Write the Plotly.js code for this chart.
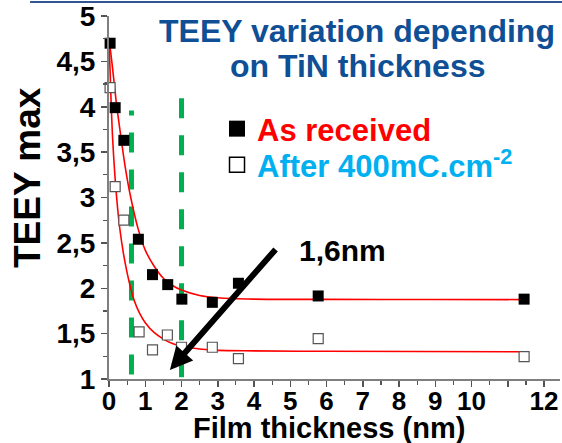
<!DOCTYPE html>
<html>
<head>
<meta charset="utf-8">
<script src="https://cdn.plot.ly/plotly-3.0.1.min.js"></script>
<style>
html,body{margin:0;padding:0;background:#fff;}
#chart{width:562px;height:443px;}
#chart .xtick text{font-size:26px !important;font-weight:bold !important;font-family:"Liberation Sans",Arial,sans-serif !important;}
#chart .ytick text{font-size:28px !important;font-weight:bold !important;font-family:"Liberation Sans",Arial,sans-serif !important;}
</style>
</head>
<body>
<div id="chart"></div>
<script>
// Measured data (film thickness in nm, TEEY max)
const xReceived = [0.03, 0.17, 0.41, 0.81, 1.2, 1.62, 2.01, 2.85, 3.57, 5.77, 11.45];
const yReceived = [4.70, 3.99, 3.63, 2.54, 2.15, 2.04, 1.88, 1.845, 2.055, 1.915, 1.88];
const xAfter = [0.03, 0.17, 0.41, 0.83, 1.2, 1.61, 2.0, 2.85, 3.57, 5.77, 11.45];
const yAfter = [4.21, 3.12, 2.75, 1.52, 1.32, 1.485, 1.35, 1.35, 1.224, 1.444, 1.246];

// Fit curves
const fitXReceived = [0.0, 0.1, 0.2, 0.3, 0.45, 0.6, 0.8, 1.0, 1.25, 1.5, 1.75, 2.0, 2.5, 3.0, 4.0, 6.0, 9.0, 11.45];
const fitYReceived = [4.76, 4.42, 4.05, 3.75, 3.33, 3.00, 2.66, 2.42, 2.24, 2.11, 2.03, 1.98, 1.92, 1.895, 1.88, 1.877, 1.876, 1.875];
const fitXAfter = [0.0, 0.05, 0.1, 0.2, 0.3, 0.4, 0.5, 0.6, 0.7, 0.85, 1.0, 1.25, 1.5, 1.75, 2.0, 2.5, 3.0, 4.0, 6.0, 11.45];
const fitYAfter = [4.76, 4.15, 3.65, 3.05, 2.65, 2.38, 2.17, 2.00, 1.86, 1.72, 1.62, 1.51, 1.44, 1.39, 1.36, 1.33, 1.315, 1.31, 1.305, 1.30];

// Vertical dashed marker lines
const markerLineX = [0.62, 2.0];
const markerLineBottom = [1.05, 1.02];
const markerLineTop = [3.96, 4.10];

// Tick labels
const xTickVals = [0,1,2,3,4,5,6,7,8,9,10,11,12];
const xTickText = ['0','1','2','3','4','5','6','7','8','9','10','','12'];
const yTickVals = [1,1.5,2,2.5,3,3.5,4,4.5,5];
const yTickText = ['1','1,5','2','2,5','3','3,5','4','4,5','5'];

const FONT = 'Liberation Sans, Arial, sans-serif';

const traces = [];
markerLineX.forEach((x, i) => {
  traces.push({x: [x, x], y: [markerLineBottom[i], markerLineTop[i]], mode: 'lines', showlegend: false,
    line: {color: '#00b050', width: 5, dash: '20px,17px'}});
});
traces.push({x: fitXReceived, y: fitYReceived, mode: 'lines', showlegend: false,
  line: {color: '#ff0000', width: 1.6, shape: 'spline', smoothing: 0.8}});
traces.push({x: fitXAfter, y: fitYAfter, mode: 'lines', showlegend: false,
  line: {color: '#ff0000', width: 1.6, shape: 'spline', smoothing: 0.8}});
traces.push({x: xAfter, y: yAfter, mode: 'markers', showlegend: false,
  marker: {symbol: 'square', size: 10, color: '#ffffff', line: {color: '#555555', width: 1.2}}, cliponaxis: false});
traces.push({x: xReceived, y: yReceived, mode: 'markers', showlegend: false,
  marker: {symbol: 'square', size: 11, color: '#000000'}, cliponaxis: false});
// legend entries
traces.push({x: [null], y: [null], mode: 'markers', legend: 'legend',
  name: '<span style="color:#ff0000">As received</span>',
  marker: {symbol: 'square', size: 16, color: '#000000'}});
traces.push({x: [null], y: [null], mode: 'markers', legend: 'legend2',
  name: '<span style="color:#00b0f0">After 400mC.cm<sup>-2</sup></span>',
  marker: {symbol: 'square', size: 15, color: '#ffffff', line: {color: '#000000', width: 1.5}}});

const legendBase = {xref: 'paper', yref: 'paper', x: 0.2395, xanchor: 'left', yanchor: 'middle',
  bgcolor: 'rgba(0,0,0,0)', borderwidth: 0, font: {family: FONT, size: 31, weight: 'bold'}, itemsizing: 'trace'};

const layout = {
  width: 562, height: 443, margin: {l: 109, r: 2, t: 16, b: 64},
  paper_bgcolor: '#ffffff', plot_bgcolor: '#ffffff', showlegend: true,
  legend: Object.assign({}, legendBase, {y: (379 - 129) / 363}),
  legend2: Object.assign({}, legendBase, {y: (379 - 165) / 363}),
  xaxis: {range: [0, 12.44], showgrid: false, zeroline: false, showline: true, linecolor: '#7f7f7f', linewidth: 2,
    ticks: 'outside', ticklen: 6, tickwidth: 1.5, tickcolor: '#555555', tickvals: xTickVals, ticktext: xTickText,
    ticklabelstandoff: -8,
    tickfont: {family: FONT, size: 26, weight: 'bold', color: '#000'},
    minor: {dtick: 0.5, ticks: 'outside', ticklen: 4, tickwidth: 1.2, tickcolor: '#555555'}},
  yaxis: {range: [1, 5], showgrid: false, zeroline: false, showline: true, linecolor: '#7f7f7f', linewidth: 2,
    ticks: 'outside', ticklen: 6, tickwidth: 1.5, tickcolor: '#555555', tickvals: yTickVals, ticktext: yTickText,
    tickfont: {family: FONT, size: 28, weight: 'bold', color: '#000'},
    minor: {dtick: 0.25, ticks: 'outside', ticklen: 4, tickwidth: 1.2, tickcolor: '#555555'}},
  shapes: [{type: 'line', xref: 'paper', yref: 'paper', x0: -0.175, x1: 1.01, y0: (379 - 2) / 363, y1: (379 - 2) / 363,
    line: {color: '#2f5597', width: 2}}],
  annotations: [
    {xref: 'paper', yref: 'paper', x: 0.55, y: (379 - 31) / 363, xanchor: 'center', yanchor: 'middle',
     text: 'TEEY variation depending', showarrow: false, font: {family: FONT, size: 32, weight: 'bold', color: '#0f4f96'}},
    {xref: 'paper', yref: 'paper', x: 0.55, y: (379 - 66) / 363, xanchor: 'center', yanchor: 'middle',
     text: 'on TiN thickness', showarrow: false, font: {family: FONT, size: 32, weight: 'bold', color: '#0f4f96'}},
    {xref: 'paper', yref: 'paper', x: (28 - 109) / 451, y: (379 - 178) / 363, xanchor: 'center', yanchor: 'middle',
     text: 'TEEY max', textangle: -90, showarrow: false, font: {family: FONT, size: 37, weight: 'bold', color: '#000'}},
    {xref: 'paper', yref: 'paper', x: (329 - 109) / 451, y: (379 - 428) / 363, xanchor: 'center', yanchor: 'middle',
     text: 'Film thickness (nm)', showarrow: false, font: {family: FONT, size: 29, weight: 'bold', color: '#000'}},
    {xref: 'paper', yref: 'paper', x: (342 - 109) / 451, y: (379 - 250) / 363, xanchor: 'center', yanchor: 'middle',
     text: '1,6nm', showarrow: false, font: {family: FONT, size: 30, weight: 'bold', color: '#000'}},
    {xref: 'x', yref: 'y', x: 1.68, y: 1.10, ax: 107, ay: -122, text: '', showarrow: true,
     arrowhead: 2, arrowsize: 0.75, arrowwidth: 6, arrowcolor: '#000000'}
  ]
};

Plotly.newPlot('chart', traces, layout, {displayModeBar: false, staticPlot: true});
</script>
</body>
</html>
